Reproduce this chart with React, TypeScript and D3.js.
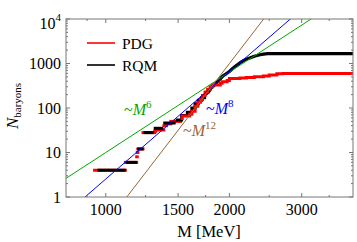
import React from "react";
import * as d3 from "d3";

// baryon counts vs mass
const pdgMass = [939, 1116, 1189, 1193, 1197, 1232, 1315, 1322, 1385, 1405, 1440, 1520, 1535, 1600, 1620, 1650, 1675, 1700, 1720, 1745, 1770, 1795, 1820, 1900, 1920, 1975, 2000, 2120, 2200, 2300, 2420, 2500, 2610, 2700];
const pdgCount = [4, 6, 8, 10, 12, 28, 30, 32, 40, 44, 50, 58, 66, 72, 85, 110, 135, 155, 190, 230, 265, 300, 330, 360, 390, 415, 460, 475, 485, 505, 525, 550, 585, 598];

const rqmMass = [955, 1118, 1192, 1236, 1308, 1380, 1480, 1530, 1580, 1620, 1650, 1680, 1710, 1740, 1780, 1810, 1840, 1870, 1900, 1930, 1960, 2000, 2040, 2080, 2120, 2160, 2200, 2250, 2300, 2360, 2420, 2480];
const rqmCount = [4, 6, 12, 28, 35, 46, 54, 68, 80, 100, 125, 150, 170, 195, 230, 290, 330, 390, 450, 530, 580, 660, 780, 900, 1030, 1150, 1250, 1350, 1450, 1550, 1620, 1660];

// N = coef * (M / GeV)^power
const lawPowers = [6, 8, 12];
const lawCoefs = [10, 2.54, 0.2433];
const lawColors = ["#00a800", "#0000ff", "#996633"];

const xMajor = [1000, 1500, 2000, 3000];
const xMinor = [900, 1250, 1750, 2500, 3500];
const yMajor = [1, 10, 100, 1000, 10000];
const yLabels = ["1", "10", "100", "1000", "10"];

const W = 357;
const H = 242;
const left = 66, right = 353, top = 19, bottom = 197;
const serif = "'Liberation Serif', 'Times New Roman', serif";
const sparseBelow = 1450; // separate bars below this mass, joined curve above

export default function App() {
  const x = d3.scaleLog().domain([800, 4000]).range([left, right]);
  const y = d3.scaleLog().domain([1, 10000]).range([bottom, top]);

  const step = d3
    .line<[number, number]>()
    .x((d) => x(d[0]))
    .y((d) => y(d[1]))
    .curve(d3.curveStepAfter);
  const smooth = d3
    .line<[number, number]>()
    .x((d) => x(d[0]))
    .y((d) => y(d[1]));

  const toPts = (ms: number[], ns: number[]) => {
    const pts: [number, number][] = ms.map((m, i) => [m, ns[i]]);
    pts.push([4000, ns[ns.length - 1]]);
    return pts;
  };
  const pdgPts = toPts(pdgMass, pdgCount);
  const rqmPts = toPts(rqmMass, rqmCount);

  const bars = (pts: [number, number][]) =>
    pts.slice(0, -1).filter((p) => p[0] < sparseBelow).map((p, i) => ({
      x1: x(p[0]),
      x2: x(pts[i + 1][0]),
      yv: y(p[1]),
    }));
  const dense = (pts: [number, number][]) => {
    const k = pts.findIndex((p) => p[0] >= sparseBelow);
    return pts.slice(k);
  };

  const yMinor: number[] = [];
  for (let dec = 1; dec < 10000; dec *= 10) {
    for (let k = 2; k <= 9; k++) yMinor.push(dec * k);
  }

  const rqmDense = dense(rqmPts);
  const rqmStepPart = rqmDense.filter((p) => p[0] <= 1760);
  const rqmSmoothPart = rqmDense.filter((p) => p[0] >= 1740);

  return (
    <svg
      width={W}
      height={H}
      style={{ position: "absolute", left: 0, top: 0, background: "#fff" }}
      fontFamily={serif}
    >
      <defs>
        <clipPath id="plotArea">
          <rect x={left} y={top} width={right - left} height={bottom - top} />
        </clipPath>
      </defs>

      <g clipPath="url(#plotArea)">
        {bars(pdgPts).map((b, i) => (
          <line key={"pb" + i} x1={b.x1} x2={b.x2} y1={b.yv} y2={b.yv} stroke="#ff0000" strokeWidth={3} strokeLinecap="square" />
        ))}
        {bars(rqmPts).map((b, i) => (
          <line key={"rb" + i} x1={b.x1} x2={b.x2} y1={b.yv} y2={b.yv} stroke="#000" strokeWidth={3} />
        ))}
        <path d={step(rqmStepPart) || ""} fill="none" stroke="#000" strokeWidth={3} />
        <path d={smooth(rqmSmoothPart) || ""} fill="none" stroke="#000" strokeWidth={3.2} strokeLinejoin="round" />
        <path d={step(dense(pdgPts)) || ""} fill="none" stroke="#ff0000" strokeWidth={3} />
        {lawPowers.map((p, i) => {
          const ms = [700, 1000, 2000, 4000];
          const d = d3
            .line<number>()
            .x((m) => x(m))
            .y((m) => y(lawCoefs[i] * Math.pow(m / 1000, p)))(ms);
          return <path key={p} d={d || ""} fill="none" stroke={lawColors[i]} strokeWidth={1} />;
        })}
      </g>

      {/* frame and ticks */}
      <rect x={left} y={top} width={right - left} height={bottom - top} fill="none" stroke="#777" strokeWidth={1} />
      {xMajor.map((v) => (
        <g key={"xM" + v}>
          <line x1={x(v)} x2={x(v)} y1={bottom} y2={bottom - 4} stroke="#777" />
          <line x1={x(v)} x2={x(v)} y1={top} y2={top + 4} stroke="#777" />
          <text x={x(v)} y={215} textAnchor="middle" fontSize={16}>
            {v}
          </text>
        </g>
      ))}
      {xMinor.map((v) => (
        <g key={"xm" + v}>
          <line x1={x(v)} x2={x(v)} y1={bottom} y2={bottom - 2} stroke="#777" />
          <line x1={x(v)} x2={x(v)} y1={top} y2={top + 2} stroke="#777" />
        </g>
      ))}
      {yMajor.map((v, i) => (
        <g key={"yM" + v}>
          <line x1={left} x2={left + 4} y1={y(v)} y2={y(v)} stroke="#777" />
          <line x1={right} x2={right - 4} y1={y(v)} y2={y(v)} stroke="#777" />
          {v === 10000 ? (
            <text x={61} y={y(v) + 10} textAnchor="end" fontSize={16}>
              {yLabels[i]}
              <tspan fontSize={11} dy={-8}>4</tspan>
            </text>
          ) : (
            <text x={61} y={y(v) + 5.5} textAnchor="end" fontSize={16}>
              {yLabels[i]}
            </text>
          )}
        </g>
      ))}
      {yMinor.map((v) => (
        <g key={"ym" + v}>
          <line x1={left} x2={left + 2} y1={y(v)} y2={y(v)} stroke="#777" />
          <line x1={right} x2={right - 2} y1={y(v)} y2={y(v)} stroke="#777" />
        </g>
      ))}

      {/* legend */}
      <line x1={87} x2={115} y1={43} y2={43} stroke="#ff0000" strokeWidth={1.6} />
      <text x={122} y={48.5} fontSize={15.5}>PDG</text>
      <line x1={87} x2={115} y1={65} y2={65} stroke="#000" strokeWidth={1.6} />
      <text x={122} y={70.5} fontSize={15.5}>RQM</text>

      {/* power-law labels */}
      <text x={124} y={115} fontSize={16} fill={lawColors[0]}>
        ~<tspan fontStyle="italic">M</tspan>
        <tspan fontSize={11} dy={-7}>6</tspan>
      </text>
      <text x={206} y={114} fontSize={16} fill={lawColors[1]}>
        ~<tspan fontStyle="italic">M</tspan>
        <tspan fontSize={11} dy={-7}>8</tspan>
      </text>
      <text x={183} y={136} fontSize={16} fill={lawColors[2]}>
        ~<tspan fontStyle="italic">M</tspan>
        <tspan fontSize={11} dy={-7}>12</tspan>
      </text>

      {/* axis titles */}
      <text x={209} y={237} textAnchor="middle" fontSize={16.5}>
        M [MeV]
      </text>
      <text transform="translate(18,106) rotate(-90)" textAnchor="middle" fontSize={17}>
        <tspan fontStyle="italic">N</tspan>
        <tspan fontSize={11} dy={3}>baryons</tspan>
      </text>
    </svg>
  );
}
